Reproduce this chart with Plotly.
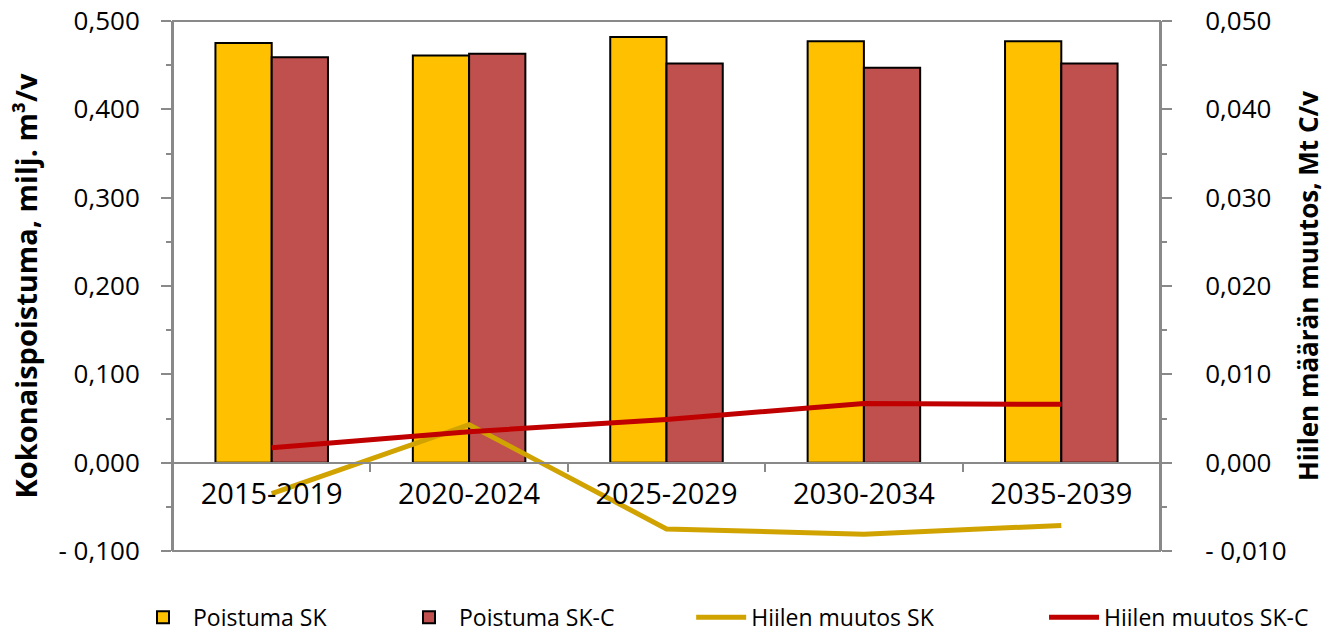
import plotly.graph_objects as go

categories = ["2015-2019", "2020-2024", "2025-2029", "2030-2034", "2035-2039"]
poistuma_sk = [0.475, 0.461, 0.482, 0.477, 0.477]
poistuma_skc = [0.459, 0.463, 0.452, 0.447, 0.452]
hiili_sk = [-0.0035, 0.0043, -0.0075, -0.0081, -0.0071]
hiili_skc = [0.0017, 0.0035, 0.0049, 0.0067, 0.0066]

left_ticks = [-0.1, 0.0, 0.1, 0.2, 0.3, 0.4, 0.5]
left_labels = ["- 0,100", "0,000", "0,100", "0,200", "0,300", "0,400", "0,500"]
right_ticks = [-0.01, 0.0, 0.01, 0.02, 0.03, 0.04, 0.05]
right_labels = ["- 0,010", "0,000", "0,010", "0,020", "0,030", "0,040", "0,050"]

FONT = "Open Sans"
AX = "#898989"

fig = go.Figure()
fig.add_trace(go.Bar(x=categories, y=poistuma_sk, name="Poistuma SK",
                     marker=dict(color="#FFC000", line=dict(color="black", width=2)),
                     legend="legend"))
fig.add_trace(go.Bar(x=categories, y=poistuma_skc, name="Poistuma SK-C",
                     marker=dict(color="#C0504D", line=dict(color="black", width=2)),
                     legend="legend2"))
fig.add_trace(go.Scatter(x=categories, y=hiili_sk, name="Hiilen muutos SK", yaxis="y2",
                         mode="lines", line=dict(color="#D1A300", width=5),
                         legend="legend3"))
fig.add_trace(go.Scatter(x=categories, y=hiili_skc, name="Hiilen muutos SK-C", yaxis="y2",
                         mode="lines", line=dict(color="#C00000", width=5),
                         legend="legend4"))

leg_common = dict(orientation="h", yanchor="middle", y=-0.125, xanchor="left",
                  font=dict(family=FONT, size=23, color="black"),
                  bgcolor="rgba(0,0,0,0)", itemwidth=50)

fig.update_layout(
    width=1327, height=632,
    margin=dict(l=173, r=167, t=21, b=81, autoexpand=False),
    paper_bgcolor="white", plot_bgcolor="white",
    barmode="group", bargap=0.43, bargroupgap=0,
    font=dict(family=FONT, size=26, color="black"),
    xaxis=dict(anchor="free", position=1/6, showline=True, linecolor=AX, linewidth=2,
               ticks="outside", tickson="boundaries", ticklen=8, tickcolor=AX, tickwidth=2,
               tickfont=dict(family=FONT, size=29, color="black"), showgrid=False,
               zeroline=False, automargin=False, ticklabelstandoff=6),
    yaxis=dict(range=[-0.1, 0.5], tickvals=left_ticks, ticktext=left_labels,
               showline=True, linecolor=AX, linewidth=2, ticks="outside", ticklen=10,
               tickcolor=AX, tickwidth=2, showgrid=False, zeroline=False, automargin=False,
               tickfont=dict(family=FONT, size=26, color="black"), ticklabelstandoff=16,
               ticklabeloverflow="allow",
               minor=dict(dtick=0.05, tick0=0, ticks="outside", ticklen=5, tickcolor=AX, tickwidth=2),
               title=dict(text="<b>Kokonaispoistuma, milj. m³/v</b>",
                          font=dict(family=FONT, size=29, color="black"), standoff=12)),
    yaxis2=dict(range=[-0.01, 0.05], overlaying="y", side="right",
                tickvals=right_ticks, ticktext=right_labels,
                showline=True, linecolor=AX, linewidth=2, ticks="outside", ticklen=10,
                tickcolor=AX, tickwidth=2, showgrid=False, zeroline=False, automargin=False,
                tickfont=dict(family=FONT, size=26, color="black"), ticklabelstandoff=28,
                ticklabeloverflow="allow",
                minor=dict(dtick=0.005, tick0=0, ticks="outside", ticklen=5, tickcolor=AX, tickwidth=2),
                title=dict(text="<b>Hiilen määrän muutos, Mt C/v</b>",
                           font=dict(family=FONT, size=26, color="black"), standoff=14)),
    legend=dict(leg_common, x=-0.0405),
    legend2=dict(leg_common, x=0.229),
    legend3=dict(leg_common, x=0.525),
    legend4=dict(leg_common, x=0.8825),
    showlegend=True,
)
fig.add_shape(type="rect", xref="paper", yref="paper", x0=0, x1=1, y0=0, y1=1,
              line=dict(color=AX, width=2), layer="below")

fig.write_html("out.html", config={"displayModeBar": False},
               post_script="document.body.style.margin='0';document.body.style.overflow='hidden';")
